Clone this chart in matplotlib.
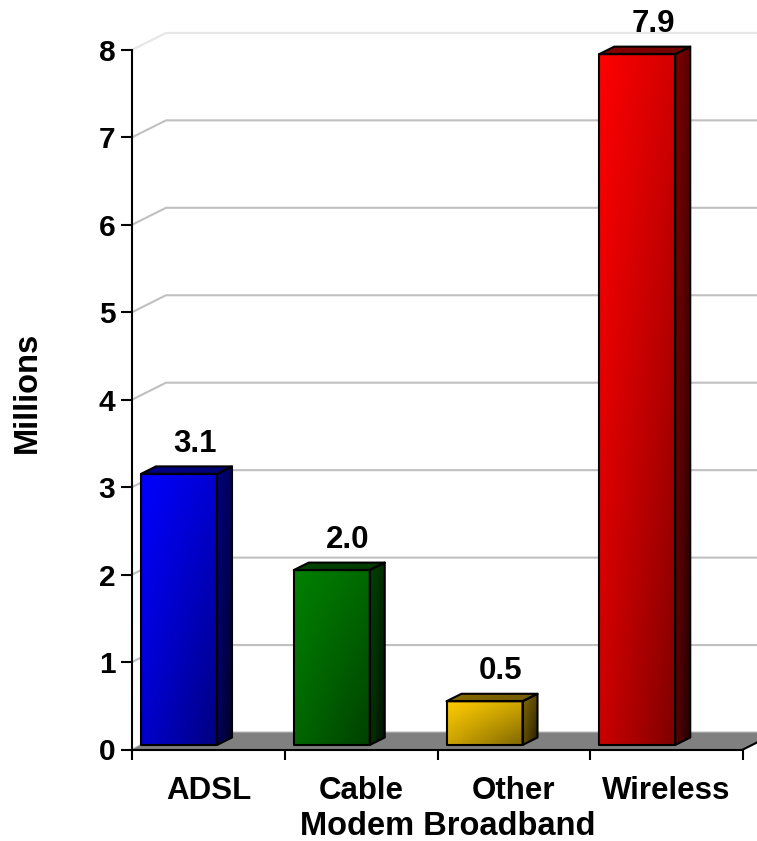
import numpy as np
import matplotlib
matplotlib.use("Agg")
import matplotlib.pyplot as plt
from matplotlib.patches import Polygon
from matplotlib.colors import to_rgb

plt.rcParams['font.family'] = ['Liberation Sans', 'DejaVu Sans']
plt.rcParams['font.weight'] = 'bold'

# data
categories = ['ADSL', 'Cable', 'Other', 'Wireless']
values = [3.1, 2.0, 0.5, 7.9]
bar_colors = ['#0000FF', '#008000', '#FFCC00', '#FF0000']
value_labels = ['3.1', '2.0', '0.5', '7.9']
y_ticks = list(range(9))

# figure layout (pixels)
W, H = 757, 841
L, B, T = 132, 749.5, 20
UX, UY = 152.75, 87.45          # px per category / per value unit

# 3-D depth of the box and of the bars (data units)
DX, DY = 34 / UX, 17 / UY
BAR_OFF_X, BAR_OFF_Y = 9 / UX, 4.5 / UY
BAR_W = 76 / UX
BAR_DX, BAR_DY = 15 / UX, 7.5 / UY

fig = plt.figure(figsize=(W / 100, H / 100), dpi=100)
ax = fig.add_axes([L / W, (H - B) / H, (W - L) / W, (B - T) / H])
xmax, ymax = (W - L) / UX, (B - T) / UY


def gradient(color, f_tl, f_tr, f_bl, f_br, n=80):
    u = np.linspace(0, 1, n)
    U, V = np.meshgrid(u, u)
    f = (f_tl * (1 - U) * (1 - V) + f_tr * U * (1 - V)
         + f_bl * (1 - U) * V + f_br * U * V)
    return np.clip(np.array(to_rgb(color))[None, None, :] * f[..., None], 0, 1)


def shaded_face(pts, img, z):
    pts = np.array(pts)
    x0, y0 = pts.min(axis=0)
    x1, y1 = pts.max(axis=0)
    im = ax.imshow(img, extent=(x0, x1, y0, y1), origin='upper',
                   aspect='auto', interpolation='bilinear', zorder=z)
    clip = Polygon(pts, closed=True, transform=ax.transData)
    im.set_clip_path(clip)
    ax.add_patch(Polygon(pts, closed=True, fill=False, ec='black',
                         lw=1.5, joinstyle='round', zorder=z + 0.1))


# back wall gridlines and left wall connectors
for k in y_ticks:
    col = '#E6E6E6' if k == y_ticks[-1] else '#C0C0C0'
    ax.plot([0, DX, xmax + 1], [k, k + DY, k + DY], color=col, lw=1.5,
            zorder=1, solid_capstyle='butt')

# floor
n = len(categories)
ax.add_patch(Polygon([(0, 0), (n, 0), (n + DX, DY), (DX, DY)], closed=True,
                     fc='#808080', ec='none', zorder=1.5))
ax.plot([n, n + DX], [0, DY], color='black', lw=1.5, zorder=1.6)

# bars
for i, (v, c) in enumerate(zip(values, bar_colors)):
    xl = i + BAR_OFF_X
    xr = xl + BAR_W
    yb = BAR_OFF_Y
    yt = yb + v
    front = [(xl, yb), (xr, yb), (xr, yt), (xl, yt)]
    side = [(xr, yb), (xr + BAR_DX, yb + BAR_DY), (xr + BAR_DX, yt + BAR_DY), (xr, yt)]
    top = [(xl, yt), (xr, yt), (xr + BAR_DX, yt + BAR_DY), (xl + BAR_DX, yt + BAR_DY)]
    shaded_face(front, gradient(c, 1.0, 0.82, 0.80, 0.50), 3)
    shaded_face(side, gradient(c, 0.50, 0.35, 0.38, 0.13), 3)
    shaded_face(top, gradient(c, 0.52, 0.45, 0.52, 0.45), 3)
    ax.text(i + 0.41, yt + 0.25, value_labels[i], ha='center', va='baseline',
            fontsize=22.5, fontweight='bold', zorder=5)

ax.set_xlim(0, xmax)
ax.set_ylim(0, ymax)

for s in ['top', 'right']:
    ax.spines[s].set_visible(False)
ax.spines['left'].set_bounds(0, y_ticks[-1])
ax.spines['bottom'].set_bounds(0, n)
for s in ['left', 'bottom']:
    ax.spines[s].set_linewidth(1.5)
    ax.spines[s].set_zorder(4)

ax.set_yticks(y_ticks)
ax.set_yticklabels([str(t) for t in y_ticks])
ax.tick_params(axis='y', length=8, width=1.5, pad=4, labelsize=21.5)

ax.set_xticks(np.arange(n + 1))
ax.set_xticklabels([])
ax.set_xticks(np.arange(n) + 0.5, minor=True)
ax.set_xticklabels(categories, minor=True, fontsize=22.5, fontweight='bold')
ax.tick_params(axis='x', which='major', length=7.5, width=1.5)
ax.tick_params(axis='x', which='minor', length=0, pad=19)

ax.text((448 - L) / (W - L), (B - 835) / (B - T), 'Modem Broadband',
        transform=ax.transAxes, ha='center', va='baseline',
        fontsize=23.5, fontweight='bold')
ax.text((27.5 - L) / (W - L), (B - 392.5) / (B - T), 'Millions',
        transform=ax.transAxes, ha='center', va='center', rotation=90,
        fontsize=23.5, fontweight='bold')

fig.savefig('out.png', dpi=100)
